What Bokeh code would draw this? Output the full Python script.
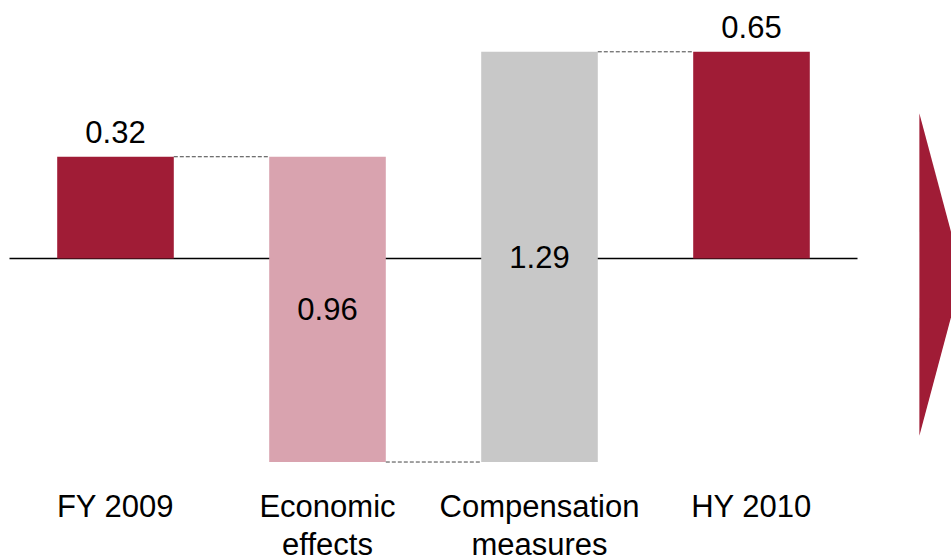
from bokeh.plotting import figure
from bokeh.models import Range1d, ColumnDataSource
from bokeh.core.properties import value
from bokeh.embed import file_html
from bokeh.resources import INLINE

# Waterfall: FY 2009 result, two movements, HY 2010 result
categories = ["FY 2009", "Economic\neffects", "Compensation\nmeasures", "HY 2010"]
amounts = [0.32, -0.96, 1.29, 0.65]
kinds = ["total", "delta", "delta", "total"]

DARK = "#A01C36"
PINK = "#D9A3AF"
GREY = "#C8C8C8"
FONT = "Liberation Sans"

# running totals -> bar bottoms / tops
bottoms, tops, colors = [], [], []
running = 0.0
for amt, kind in zip(amounts, kinds):
    if kind == "total":
        b, t = 0.0, amt
        running = amt
        colors.append(DARK)
    else:
        b, t = running, running + amt
        running = t
        colors.append(PINK if amt < 0 else GREY)
    bottoms.append(min(b, t))
    tops.append(max(b, t))

xs = list(range(len(categories)))
BAR_W = 0.55

p = figure(width=951, height=557, output_backend="svg", toolbar_location=None,
           x_range=Range1d(-115 / 212, 836 / 212),
           y_range=Range1d(-299 / 318, 258 / 318),
           min_border=0, outline_line_color=None, background_fill_color="white",
           border_fill_color="white")
p.axis.visible = False
p.grid.visible = False

# zero line
p.segment(x0=[-0.5], y0=[0], x1=[3.5], y1=[0], line_color="black", line_width=1.6)

src = ColumnDataSource(dict(x=xs, bottom=bottoms, top=tops, color=colors))
p.vbar(x="x", bottom="bottom", top="top", width=BAR_W, fill_color="color",
       line_color=None, source=src)

# dashed connectors between consecutive bars
cx0, cx1, cy = [], [], []
run = 0.0
for i, (amt, kind) in enumerate(zip(amounts, kinds)):
    run = amt if kind == "total" else run + amt
    if i < len(amounts) - 1:
        cx0.append(i + BAR_W / 2)
        cx1.append(i + 1 - BAR_W / 2)
        cy.append(run)
p.segment(x0=cx0, y0=cy, x1=cx1, y1=cy, line_color="#444444", line_width=1,
          line_dash="4 2")

# value labels
tot_x = [x for x, k in zip(xs, kinds) if k == "total"]
tot_y = [t for t, k in zip(tops, kinds) if k == "total"]
tot_t = [f"{abs(a):.2f}" for a, k in zip(amounts, kinds) if k == "total"]
p.text(x=tot_x, y=tot_y, text=tot_t, text_align="center", text_baseline="alphabetic",
       y_offset=-25, text_font=value(FONT), text_font_size="31px", text_color="black")

d_x = [x for x, k in zip(xs, kinds) if k == "delta"]
d_y = [(b + t) / 2 for b, t, k in zip(bottoms, tops, kinds) if k == "delta"]
d_t = [f"{abs(a):.2f}" for a, k in zip(amounts, kinds) if k == "delta"]
p.text(x=d_x, y=d_y, text=d_t, text_align="center", text_baseline="middle",
       text_font=value(FONT), text_font_size="31px", text_color="black")

# category labels under the chart
p.text(x=xs, y=[-0.7262] * len(xs), text=categories, text_align="center",
       text_baseline="top", text_font=value(FONT), text_font_size="31px",
       text_color="black", text_line_height=1.08)

# arrow head on the right edge
p.patch(x=[3.792, 3.995, 3.792], y=[0.456, -0.05, -0.557], fill_color=DARK,
        line_color=None)

open("out.html", "w").write(file_html(p, INLINE))
